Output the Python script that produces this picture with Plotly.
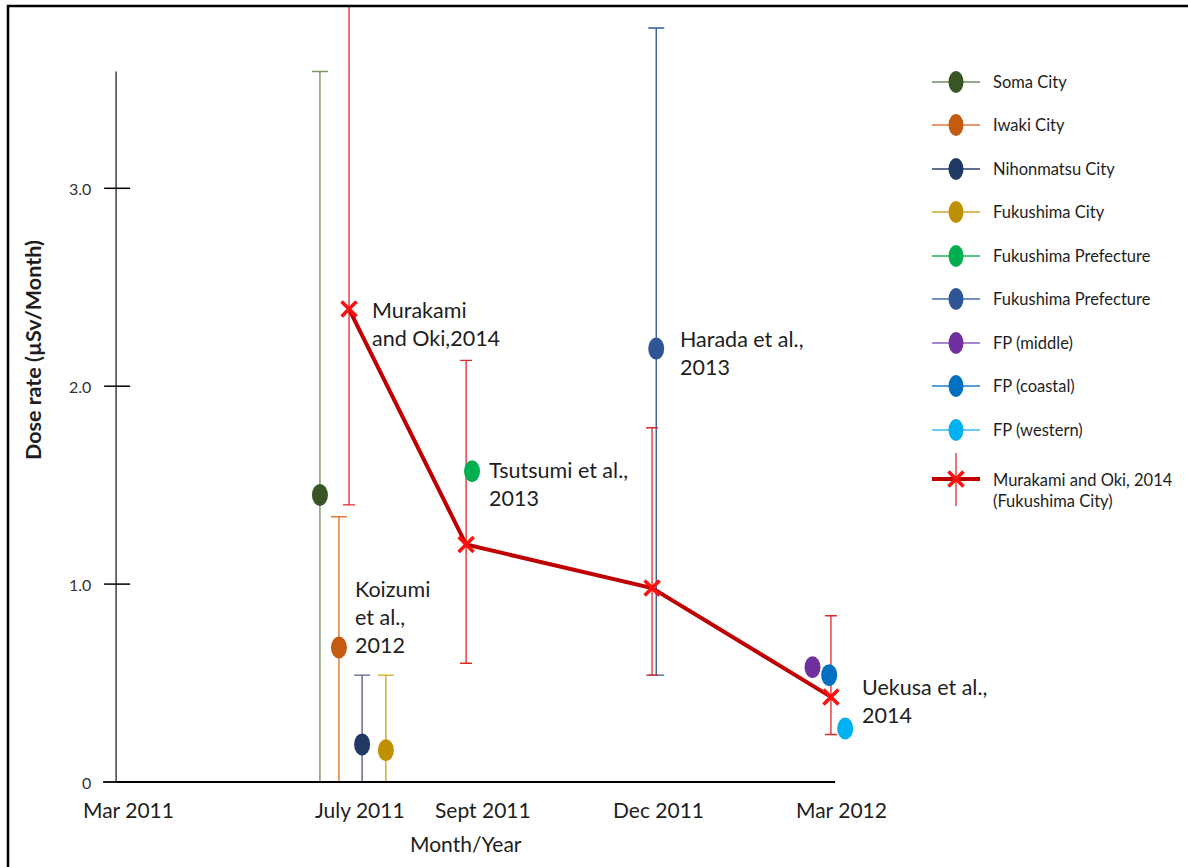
import plotly.graph_objects as go

# ---------------------------------------------------------------------------
# Data: x positions are months after March 2011, y values are dose rates
# ---------------------------------------------------------------------------
tick_positions = [0.0, 3.9, 5.98, 8.92, 12.0]
tick_labels = ["Mar 2011", "July 2011", "Sept 2011", "Dec 2011", "Mar 2012"]
y_ticks = [0.0, 1.0, 2.0, 3.0]
y_tick_labels = ["0", "1.0", "2.0", "3.0"]

# Koizumi et al., 2012 (four cities, July 2011)
koizumi_names = ["Soma City", "Iwaki City", "Nihonmatsu City", "Fukushima City"]
koizumi_x = [3.23, 3.55, 3.94, 4.34]
koizumi_y = [1.45, 0.68, 0.19, 0.16]
koizumi_hi = [3.59, 1.34, 0.54, 0.54]
koizumi_lo = [0.0, 0.0, 0.0, 0.0]

# Tsutsumi et al., 2013 (Fukushima Prefecture)
tsutsumi_x = [5.79]
tsutsumi_y = [1.57]

# Harada et al., 2013 (Fukushima Prefecture)
harada_x = [8.89]
harada_y = [2.19]
harada_hi = [3.81]
harada_lo = [0.54]

# Uekusa et al., 2014 (FP middle / coastal / western)
uekusa_names = ["FP (middle)", "FP (coastal)", "FP (western)"]
uekusa_x = [11.52, 11.80, 12.07]
uekusa_y = [0.58, 0.54, 0.27]

# Murakami and Oki, 2014 (Fukushima City)
murakami_x = [3.72, 5.69, 8.82, 11.83]
murakami_y = [2.39, 1.20, 0.98, 0.43]
murakami_hi = [4.50, 2.13, 1.79, 0.84]
murakami_lo = [1.40, 0.60, 0.54, 0.24]

legend_names = ["Soma City", "Iwaki City", "Nihonmatsu City", "Fukushima City",
                "Fukushima Prefecture", "Fukushima Prefecture",
                "FP (middle)", "FP (coastal)", "FP (western)"]

# ---------------------------------------------------------------------------
# Styling
# ---------------------------------------------------------------------------
W, H = 1188, 867
FONT = "Lato"
TEXT = "#1e1e1e"

dot_colors = {
    "Soma City": "#375623", "Iwaki City": "#C55A11", "Nihonmatsu City": "#1F3864",
    "Fukushima City": "#BF9000", "Fukushima Prefecture (T)": "#00B050",
    "Fukushima Prefecture (H)": "#2F5597", "FP (middle)": "#7030A0",
    "FP (coastal)": "#0070C0", "FP (western)": "#00B0F0",
}
bar_colors = {
    "Soma City": "#7A9668", "Iwaki City": "#E07A30", "Nihonmatsu City": "#5A6680",
    "Fukushima City": "#D6A620", "Fukushima Prefecture (H)": "#3659A0",
}
legend_dot = ["#375623", "#C55A11", "#1F3864", "#BF9000", "#00B050",
              "#2F5597", "#7030A0", "#0070C0", "#00B0F0"]
legend_line = ["#6E8B5E", "#E07B39", "#2A3F6E", "#D4A72C", "#1DB45A",
               "#4A6CAE", "#8E5CC0", "#1E7CC8", "#35BDF2"]
RED_LINE = "#C00000"
RED_MARK = "#FF1010"
RED_BAR = "#E02828"

# pixel geometry of the data area (margins are zero, paper == page)
PX_PER_MONTH = 59.42
X0_PX = 128.0            # pixel column of month 0
Y0_PX = 782.0            # pixel row of dose 0
PX_PER_UNIT = 197.9
TOP_PX = 6.0             # frame top
Y_AXIS_X = -0.2
AXIS_TOP = 3.59
X_AXIS_END = 11.9

x_range = [-X0_PX / PX_PER_MONTH, (W - X0_PX) / PX_PER_MONTH]
y_range = [-(H - Y0_PX) / PX_PER_UNIT, (Y0_PX - TOP_PX) / PX_PER_UNIT]
y_dom_top = 1 - TOP_PX / H

fig = go.Figure()
shapes = []
annotations = []


def ellipse(xref, yref, x, y, color, w=8, h=11):
    return dict(type="circle", xref=xref, yref=yref, xsizemode="pixel",
                ysizemode="pixel", xanchor=x, yanchor=y, x0=-w, x1=w,
                y0=-h, y1=h, fillcolor=color, line=dict(width=0), layer="above")


# --- Koizumi error bars and dots -----------------------------------------
for name, x, y, hi, lo in zip(koizumi_names, koizumi_x, koizumi_y, koizumi_hi, koizumi_lo):
    fig.add_trace(go.Scatter(
        x=[x], y=[y], mode="markers", name=name, showlegend=False,
        marker=dict(size=2, opacity=0),
        error_y=dict(type="data", symmetric=False, array=[hi - y], arrayminus=[y - lo],
                     color=bar_colors[name], thickness=1.4, width=8),
    ))
    shapes.append(ellipse("x", "y", x, y, dot_colors[name]))

# --- Tsutsumi -------------------------------------------------------------
fig.add_trace(go.Scatter(x=tsutsumi_x, y=tsutsumi_y, mode="markers", showlegend=False,
                         name="Fukushima Prefecture", marker=dict(size=2, opacity=0)))
for x, y in zip(tsutsumi_x, tsutsumi_y):
    shapes.append(ellipse("x", "y", x, y, dot_colors["Fukushima Prefecture (T)"]))

# --- Harada ---------------------------------------------------------------
for x, y, hi, lo in zip(harada_x, harada_y, harada_hi, harada_lo):
    fig.add_trace(go.Scatter(
        x=[x], y=[y], mode="markers", name="Fukushima Prefecture", showlegend=False,
        marker=dict(size=2, opacity=0),
        error_y=dict(type="data", symmetric=False, array=[hi - y], arrayminus=[y - lo],
                     color=bar_colors["Fukushima Prefecture (H)"], thickness=1.4, width=8),
    ))
    shapes.append(ellipse("x", "y", x, y, dot_colors["Fukushima Prefecture (H)"]))

# --- Uekusa ---------------------------------------------------------------
for name, x, y in zip(uekusa_names, uekusa_x, uekusa_y):
    fig.add_trace(go.Scatter(x=[x], y=[y], mode="markers", name=name, showlegend=False,
                             marker=dict(size=2, opacity=0)))
    shapes.append(ellipse("x", "y", x, y, dot_colors[name]))

# --- Murakami and Oki: error bars, line, X markers -----------------------
fig.add_trace(go.Scatter(
    x=murakami_x, y=murakami_y, mode="markers", showlegend=False,
    marker=dict(size=2, opacity=0),
    error_y=dict(type="data", symmetric=False,
                 array=[h - v for h, v in zip(murakami_hi, murakami_y)],
                 arrayminus=[v - l for v, l in zip(murakami_y, murakami_lo)],
                 color=RED_BAR, thickness=1.3, width=6),
))
fig.add_trace(go.Scatter(
    x=murakami_x, y=murakami_y, mode="lines", showlegend=False,
    line=dict(color=RED_LINE, width=4),
))
fig.add_trace(go.Scatter(
    x=murakami_x, y=murakami_y, mode="markers", showlegend=False,
    name="Murakami and Oki, 2014",
    marker=dict(symbol="x-thin", size=15, line=dict(color=RED_MARK, width=3.6)),
    cliponaxis=False,
))

# --- axes drawn as lines --------------------------------------------------
shapes.append(dict(type="line", xref="x", yref="y", x0=Y_AXIS_X, x1=Y_AXIS_X,
                   y0=0, y1=AXIS_TOP, line=dict(color="#404040", width=1.5)))
shapes.append(dict(type="line", xref="x", yref="y", xsizemode="pixel", xanchor=Y_AXIS_X,
                   x0=-13, x1=0, y0=0, y1=0, line=dict(color="#000000", width=1.8)))
shapes.append(dict(type="line", xref="x", yref="y", x0=Y_AXIS_X, x1=X_AXIS_END,
                   y0=0, y1=0, line=dict(color="#000000", width=1.8)))
for v in y_ticks[1:]:
    shapes.append(dict(type="line", xref="x", yref="y", xsizemode="pixel", xanchor=Y_AXIS_X,
                       x0=-12, x1=14, y0=v, y1=v, line=dict(color="#000000", width=1.5)))

for v, t in zip(y_ticks, y_tick_labels):
    annotations.append(dict(x=Y_AXIS_X, y=v, xref="x", yref="y", text=t, showarrow=False,
                            xanchor="right", yanchor="middle", xshift=-23,
                            font=dict(family=FONT, size=16, color="#333333")))
for p, t in zip(tick_positions, tick_labels):
    annotations.append(dict(x=p, y=0, xref="x", yref="y", text=t, showarrow=False,
                            xanchor="center", yanchor="middle", yshift=-27,
                            font=dict(family=FONT, size=21, color=TEXT)))

annotations.append(dict(x=466 / W, y=1 - 843 / H, xref="paper", yref="paper",
                        text="Month/Year", showarrow=False, xanchor="center",
                        yanchor="middle", font=dict(family=FONT, size=21, color=TEXT)))
annotations.append(dict(x=33 / W, y=1 - 350 / H, xref="paper", yref="paper",
                        text="<b>Dose rate (µSv/Month)</b>", showarrow=False, textangle=-90,
                        xanchor="center", yanchor="middle",
                        font=dict(family=FONT, size=21.5, color=TEXT)))

# --- study labels: (text, anchor x, anchor y, shift right, top edge above anchor)
study_labels = [
    ("Murakami<br>and Oki,2014", murakami_x[0], murakami_y[0], 21, 14),
    ("Tsutsumi et al.,<br>2013", tsutsumi_x[0], tsutsumi_y[0], 15, 16),
    ("Koizumi<br>et al.,<br>2012", koizumi_x[1], koizumi_y[1], 14, 73),
    ("Harada et al.,<br>2013", harada_x[0], harada_y[0], 22, 25),
    ("Uekusa et al.,<br>2014", murakami_x[3], murakami_y[3], 29, 25),
]
for text, x, y, dx, dy in study_labels:
    annotations.append(dict(x=x, y=y, xref="x", yref="y", text=text, showarrow=False,
                            xanchor="left", yanchor="top", align="left",
                            xshift=dx, yshift=dy,
                            font=dict(family=FONT, size=21.5, color=TEXT)))

# --- legend (pixel-based overlay axes) ------------------------------------
LEG_X0, LEG_X1, LEG_DOT, LEG_TXT = 932, 980, 956, 991
leg_rows = [82, 125, 169, 212, 256, 299, 343, 386, 430]
for name, row, dcol, lcol in zip(legend_names, leg_rows, legend_dot, legend_line):
    fig.add_trace(go.Scatter(x=[LEG_X0, LEG_X1], y=[row, row], xaxis="x2", yaxis="y2",
                             mode="lines", line=dict(color=lcol, width=1.5),
                             showlegend=False, hoverinfo="skip"))
    shapes.append(ellipse("x2", "y2", LEG_DOT, row, dcol, w=7.5, h=11))
    annotations.append(dict(x=LEG_TXT, y=row, xref="x2", yref="y2", text=name,
                            showarrow=False, xanchor="left", yanchor="middle",
                            font=dict(family=FONT, size=16.5, color=TEXT)))

MK_ROW = 479
fig.add_trace(go.Scatter(x=[LEG_DOT, LEG_DOT], y=[453, 506], xaxis="x2", yaxis="y2",
                         mode="lines", line=dict(color=RED_BAR, width=1.3),
                         showlegend=False, hoverinfo="skip"))
fig.add_trace(go.Scatter(x=[LEG_X0, LEG_X1], y=[MK_ROW, MK_ROW], xaxis="x2", yaxis="y2",
                         mode="lines", line=dict(color=RED_LINE, width=4),
                         showlegend=False, hoverinfo="skip"))
fig.add_trace(go.Scatter(x=[LEG_DOT], y=[MK_ROW], xaxis="x2", yaxis="y2", mode="markers",
                         marker=dict(symbol="x-thin", size=15,
                                     line=dict(color=RED_MARK, width=3.6)),
                         showlegend=False, hoverinfo="skip"))
annotations.append(dict(x=LEG_TXT, y=MK_ROW + 11, xref="x2", yref="y2",
                        text="Murakami and Oki, 2014<br>(Fukushima City)", showarrow=False,
                        xanchor="left", yanchor="middle", align="left",
                        font=dict(family=FONT, size=16.5, color=TEXT)))

# --- frame --------------------------------------------------------------------
shapes.append(dict(type="rect", xref="paper", yref="paper", x0=8 / W, x1=1.02,
                   y0=-0.02, y1=1 - TOP_PX / H, line=dict(color="#000000", width=2.5),
                   fillcolor="rgba(0,0,0,0)", layer="above"))

axis_off = dict(showgrid=False, zeroline=False, showline=False, showticklabels=False,
                ticks="")
fig.update_layout(
    width=W, height=H, autosize=False,
    margin=dict(l=0, r=0, t=0, b=0, pad=0),
    paper_bgcolor="white", plot_bgcolor="white",
    showlegend=False,
    xaxis=dict(range=x_range, domain=[0, 1], **axis_off),
    yaxis=dict(range=y_range, domain=[0, y_dom_top], **axis_off),
    # the overlay shares the main y domain, which starts below the frame top
    xaxis2=dict(range=[0, W], domain=[0, 1], anchor="y2", overlaying="x", **axis_off),
    yaxis2=dict(range=[H, TOP_PX], domain=[0, y_dom_top], anchor="x2", overlaying="y",
                **axis_off),
    shapes=shapes,
    annotations=annotations,
)

fig.write_html("out.html", config={"displayModeBar": False})
